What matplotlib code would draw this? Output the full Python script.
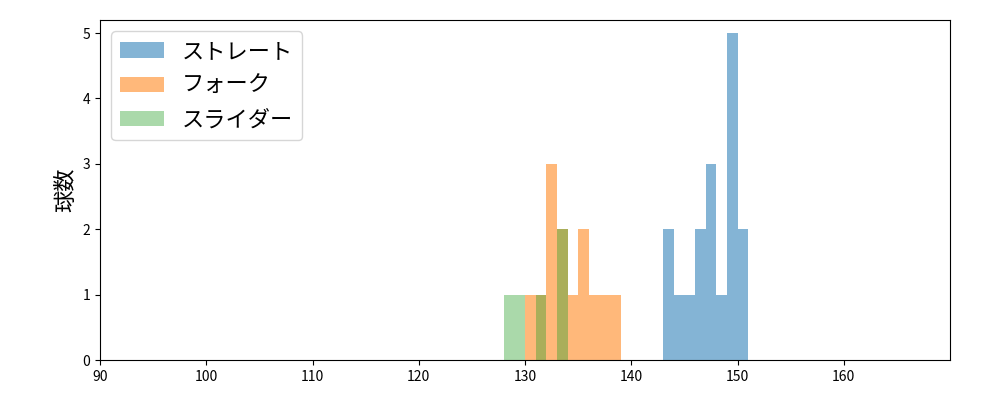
import matplotlib
matplotlib.use("Agg")
import matplotlib.pyplot as plt

plt.rcParams["font.family"] = ["Noto Sans CJK JP", "DejaVu Sans"]

# bin left edges (width 1) and counts per pitch type
straight_bins = [143, 144, 145, 146, 147, 148, 149, 150]
straight_counts = [2, 1, 1, 2, 3, 1, 5, 2]

fork_bins = [130, 131, 132, 133, 134, 135, 136, 137, 138]
fork_counts = [1, 1, 3, 2, 1, 2, 1, 1, 1]

slider_bins = [128, 129, 130, 131, 132, 133]
slider_counts = [1, 1, 0, 1, 0, 2]

series = [
    ("ストレート", straight_bins, straight_counts, "tab:blue", 0.55),
    ("フォーク", fork_bins, fork_counts, "tab:orange", 0.55),
    ("スライダー", slider_bins, slider_counts, "tab:green", 0.4),
]

fig, ax = plt.subplots(figsize=(10, 4), dpi=100)
for name, bins, counts, color, a in series:
    edges = bins + [bins[-1] + 1]
    ax.hist(bins, bins=edges, weights=counts, color=color, alpha=a, label=name)

ax.set_xlim(90, 170)
ax.set_xticks(range(90, 170, 10))
ax.set_ylim(0, 5.2)
ax.tick_params(labelsize=10)
ax.set_ylabel("球数", fontsize=16)
ax.legend(loc="upper left", fontsize=16)
fig.subplots_adjust(left=0.1, right=0.95, top=0.95, bottom=0.1)
fig.savefig("out.png")
